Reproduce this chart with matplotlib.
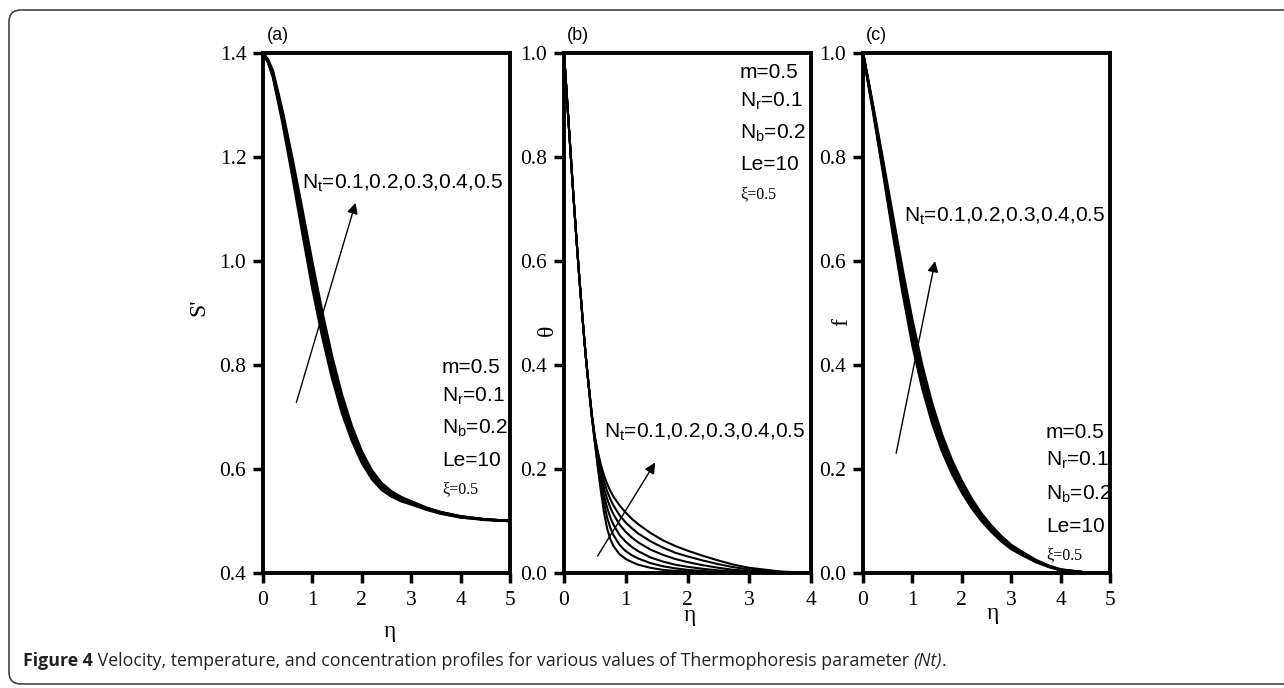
import matplotlib
matplotlib.use("Agg")
import matplotlib.pyplot as plt
from matplotlib.patches import FancyBboxPatch

plt.rcParams['font.family'] = 'Liberation Serif'
plt.rcParams['mathtext.fontset'] = 'custom'
plt.rcParams['mathtext.rm'] = 'Liberation Sans'
plt.rcParams['mathtext.it'] = 'Liberation Sans:italic'

# ---- data ----
# (a) velocity profile S', Nt = 0.1 ... 0.5
eta_a = [0, 0.1, 0.2, 0.3, 0.4, 0.6, 0.8, 1.0, 1.2, 1.4, 1.6, 1.8, 2.0, 2.2, 2.4, 2.6, 2.8, 3.0, 3.3, 3.6, 4.0, 4.5, 5.0]
s_nt1 = [1.400, 1.382, 1.354, 1.309, 1.263, 1.160, 1.052, 0.947, 0.854, 0.774, 0.707, 0.654, 0.612, 0.581, 0.560, 0.547, 0.538, 0.532, 0.522, 0.514, 0.507, 0.502, 0.500]
s_nt2 = [1.400, 1.383, 1.357, 1.313, 1.269, 1.169, 1.064, 0.959, 0.866, 0.784, 0.716, 0.661, 0.617, 0.586, 0.564, 0.549, 0.540, 0.533, 0.523, 0.515, 0.507, 0.503, 0.500]
s_nt3 = [1.400, 1.385, 1.360, 1.318, 1.275, 1.178, 1.075, 0.972, 0.878, 0.795, 0.725, 0.668, 0.623, 0.590, 0.567, 0.552, 0.542, 0.535, 0.524, 0.516, 0.508, 0.503, 0.500]
s_nt4 = [1.400, 1.386, 1.363, 1.322, 1.281, 1.187, 1.086, 0.984, 0.890, 0.805, 0.734, 0.675, 0.628, 0.594, 0.570, 0.554, 0.544, 0.536, 0.525, 0.517, 0.509, 0.503, 0.500]
s_nt5 = [1.400, 1.388, 1.366, 1.327, 1.287, 1.195, 1.097, 0.997, 0.902, 0.816, 0.742, 0.682, 0.634, 0.598, 0.573, 0.557, 0.546, 0.538, 0.526, 0.517, 0.509, 0.503, 0.500]

# (b) temperature profile theta (six curves are drawn in the figure)
eta_b = [0, 0.05, 0.1, 0.15, 0.2, 0.25, 0.3, 0.35, 0.4, 0.45, 0.5, 0.55, 0.6, 0.65, 0.7, 0.75, 0.8, 0.9,
         1.0, 1.1, 1.2, 1.4, 1.6, 1.8, 2.0, 2.25, 2.5, 2.75, 3.0, 3.5, 4.0]
th_1 = [1.0, 0.91, 0.82, 0.73, 0.645, 0.565, 0.49, 0.42, 0.36, 0.300, 0.250, 0.200, 0.155, 0.115, 0.085, 0.065,
        0.052, 0.036, 0.027, 0.021, 0.016, 0.010, 0.006, 0.004, 0.003, 0.002, 0.001, 0.0005, 0.0, 0.0, 0.0]
th_2 = [1.0, 0.91, 0.82, 0.73, 0.645, 0.565, 0.49, 0.42, 0.36, 0.302, 0.253, 0.207, 0.167, 0.133, 0.106, 0.087,
        0.073, 0.054, 0.042, 0.034, 0.028, 0.019, 0.013, 0.009, 0.006, 0.004, 0.002, 0.001, 0.0005, 0.0, 0.0]
th_3 = [1.0, 0.91, 0.82, 0.73, 0.645, 0.565, 0.49, 0.42, 0.36, 0.303, 0.256, 0.213, 0.177, 0.148, 0.125, 0.107,
        0.093, 0.073, 0.060, 0.050, 0.042, 0.030, 0.022, 0.016, 0.012, 0.008, 0.005, 0.003, 0.002, 0.0005, 0.0]
th_4 = [1.0, 0.91, 0.82, 0.73, 0.645, 0.565, 0.49, 0.42, 0.36, 0.304, 0.258, 0.219, 0.187, 0.162, 0.142, 0.126,
        0.113, 0.093, 0.079, 0.068, 0.059, 0.045, 0.035, 0.027, 0.021, 0.015, 0.010, 0.006, 0.004, 0.001, 0.0]
th_5 = [1.0, 0.91, 0.82, 0.73, 0.645, 0.565, 0.49, 0.42, 0.36, 0.305, 0.260, 0.226, 0.197, 0.175, 0.157, 0.142,
        0.130, 0.111, 0.097, 0.086, 0.076, 0.061, 0.049, 0.039, 0.032, 0.024, 0.017, 0.011, 0.007, 0.002, 0.0]
th_6 = [1.0, 0.91, 0.82, 0.73, 0.645, 0.565, 0.49, 0.42, 0.36, 0.306, 0.262, 0.232, 0.207, 0.187, 0.171, 0.158,
        0.147, 0.130, 0.116, 0.104, 0.094, 0.077, 0.063, 0.052, 0.043, 0.033, 0.024, 0.016, 0.010, 0.003, 0.0]

# (c) concentration profile f, Nt = 0.1 ... 0.5
eta_c = [0, 0.2, 0.4, 0.6, 0.8, 1.0, 1.2, 1.4, 1.6, 1.8, 2.0, 2.2, 2.4, 2.6, 2.8, 3.0, 3.25, 3.5, 3.75, 4.0, 4.5, 5.0]
f_nt1 = [1.000, 0.889, 0.773, 0.654, 0.540, 0.438, 0.355, 0.288, 0.234, 0.191, 0.155, 0.125, 0.100, 0.079, 0.061, 0.046, 0.033, 0.021, 0.012, 0.005, 0.001, 0.0]
f_nt2 = [1.000, 0.892, 0.779, 0.663, 0.551, 0.450, 0.366, 0.298, 0.242, 0.198, 0.161, 0.130, 0.104, 0.082, 0.064, 0.048, 0.035, 0.022, 0.013, 0.006, 0.001, 0.0]
f_nt3 = [1.000, 0.895, 0.785, 0.672, 0.562, 0.462, 0.377, 0.307, 0.250, 0.204, 0.166, 0.134, 0.107, 0.085, 0.066, 0.050, 0.036, 0.023, 0.013, 0.006, 0.001, 0.0]
f_nt4 = [1.000, 0.898, 0.791, 0.681, 0.573, 0.474, 0.388, 0.317, 0.258, 0.211, 0.172, 0.138, 0.111, 0.088, 0.068, 0.052, 0.037, 0.024, 0.014, 0.006, 0.001, 0.0]
f_nt5 = [1.000, 0.901, 0.797, 0.690, 0.584, 0.486, 0.399, 0.326, 0.266, 0.217, 0.177, 0.143, 0.114, 0.091, 0.071, 0.054, 0.039, 0.025, 0.0145, 0.007, 0.001, 0.0]

nt_label = 'N$_\\mathrm{t}$=0.1,0.2,0.3,0.4,0.5'
params = ['m=0.5', 'N$_\\mathrm{r}$=0.1', 'N$_\\mathrm{b}$=0.2', 'Le=10']

W, H = 1284, 688


def fx(x):
    return x / W


def fy(y):
    return 1 - y / H


def style_axes(ax, xmax, ylim, yticks):
    ax.set_xlim(0, xmax)
    ax.set_ylim(*ylim)
    ax.set_xticks(range(xmax + 1))
    ax.set_yticks(yticks)
    ax.set_yticklabels([f"{v:.1f}" for v in yticks])
    for s in ax.spines.values():
        s.set_linewidth(2.8)
    ax.tick_params(direction='out', length=7, width=2.5, labelsize=15.5)
    ax.tick_params(axis='y', pad=5)
    ax.tick_params(axis='x', pad=6)


def param_block(fig, x, ys):
    for txt, y in zip(params, ys[:4]):
        fig.text(fx(x), fy(y), txt, family='Liberation Sans', fontsize=15, va='center', ha='left')
    fig.text(fx(x), fy(ys[4]), '\u03be=0.5', family='Liberation Serif', fontsize=11.5, va='center', ha='left')


fig = plt.figure(figsize=(12.84, 6.88), dpi=100)

# panel (a)
ax1 = fig.add_axes([fx(263), 115 / H, 247 / W, 520 / H])
for s in [s_nt1, s_nt2, s_nt3, s_nt4, s_nt5]:
    ax1.plot(eta_a, s, color='k', lw=1.8)
style_axes(ax1, 5, (0.4, 1.4), [0.4, 0.6, 0.8, 1.0, 1.2, 1.4])
ax1.annotate('', xy=(1.89, 1.117), xytext=(0.66, 0.723),
             arrowprops=dict(arrowstyle='-|>', color='k', lw=1.0, mutation_scale=16))
ax1.text(0.78, 1.15, nt_label, family='Liberation Sans', fontsize=15, va='center')
param_block(fig, 442, [368, 396, 428, 461, 489])
fig.text(fx(199), fy(307), "S'", rotation=90, fontsize=17, va='center', ha='center')
fig.text(fx(390), fy(632), '\u03b7', fontsize=17, va='center', ha='center')
fig.text(fx(278), fy(36), '(a)', family='Liberation Sans', fontsize=13, va='center', ha='center')

# panel (b)
ax2 = fig.add_axes([fx(564), 115 / H, 247 / W, 520 / H])
for th in [th_1, th_2, th_3, th_4, th_5, th_6]:
    ax2.plot(eta_b, th, color='k', lw=1.5)
style_axes(ax2, 4, (0, 1.0), [0.0, 0.2, 0.4, 0.6, 0.8, 1.0])
ax2.annotate('', xy=(1.5, 0.217), xytext=(0.52, 0.028),
             arrowprops=dict(arrowstyle='-|>', color='k', lw=1.0, mutation_scale=16))
ax2.text(0.64, 0.27, nt_label, family='Liberation Sans', fontsize=15, va='center')
param_block(fig, 740, [73, 101, 133, 165, 194])
fig.text(fx(547), fy(330), '\u03b8', rotation=90, fontsize=17, va='center', ha='center')
fig.text(fx(690), fy(616), '\u03b7', fontsize=17, va='center', ha='center')
fig.text(fx(578), fy(36), '(b)', family='Liberation Sans', fontsize=13, va='center', ha='center')

# panel (c)
ax3 = fig.add_axes([fx(863), 115 / H, 247 / W, 520 / H])
for f in [f_nt1, f_nt2, f_nt3, f_nt4, f_nt5]:
    ax3.plot(eta_c, f, color='k', lw=1.8)
style_axes(ax3, 5, (0, 1.0), [0.0, 0.2, 0.4, 0.6, 0.8, 1.0])
ax3.annotate('', xy=(1.47, 0.605), xytext=(0.66, 0.225),
             arrowprops=dict(arrowstyle='-|>', color='k', lw=1.0, mutation_scale=16))
ax3.text(0.82, 0.685, nt_label, family='Liberation Sans', fontsize=15, va='center')
param_block(fig, 1046, [433, 460, 494, 527, 555])
fig.text(fx(842), fy(322), 'f', rotation=90, fontsize=17, va='center', ha='center')
fig.text(fx(993), fy(614), '\u03b7', fontsize=17, va='center', ha='center')
fig.text(fx(876), fy(36), '(c)', family='Liberation Sans', fontsize=13, va='center', ha='center')

# rounded frame around the figure (right side runs off the page)
frame = FancyBboxPatch((0.09, 0.04), 13.4, 6.74, boxstyle='round,pad=0,rounding_size=0.12',
                       transform=fig.dpi_scale_trans, fill=False, ec='#444444', lw=1.2)
fig.add_artist(frame)

# caption, written in pieces
fig.canvas.draw()
r = fig.canvas.get_renderer()
x0 = fx(23)
pieces = [('Figure 4', 'bold', 'normal'),
          (' Velocity, temperature, and concentration profiles for various values of Thermophoresis parameter ', 'normal', 'normal'),
          ('(Nt)', 'normal', 'italic'),
          ('.', 'normal', 'normal')]
for txt, wt, st in pieces:
    t = fig.text(x0, fy(661), txt, family='Open Sans', fontsize=12.8, fontweight=wt, fontstyle=st,
                 color='#222222', va='center', ha='left')
    bb = t.get_window_extent(renderer=r)
    x0 += bb.width / W

fig.savefig('out.png', dpi=100)
